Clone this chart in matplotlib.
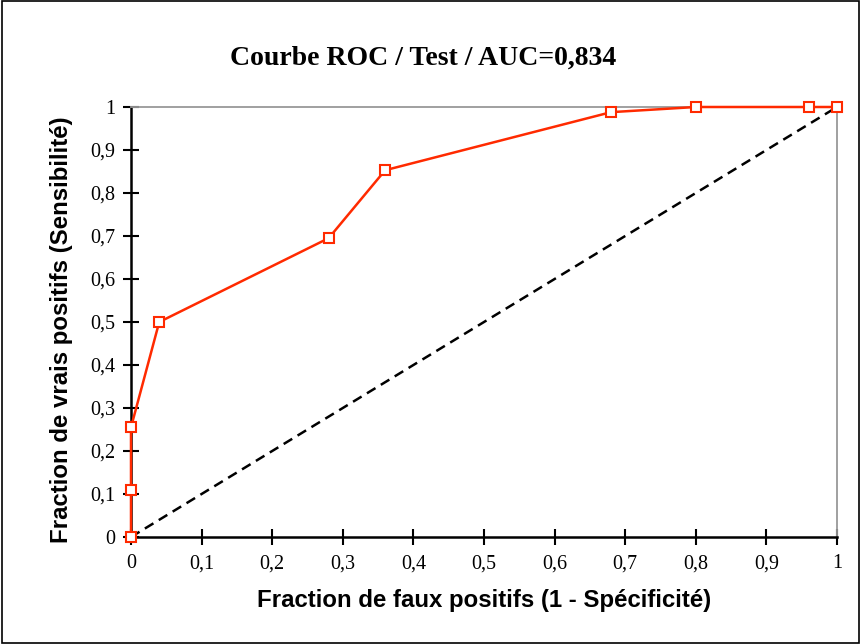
import matplotlib
matplotlib.use("Agg")
import matplotlib.pyplot as plt
from matplotlib.patches import Rectangle

# ROC points (1 - specificity, sensitivity)
fpr = [0, 0, 0, 0.04, 0.28, 0.36, 0.68, 0.80, 0.96, 1.0]
tpr = [0, 0.11, 0.255, 0.50, 0.695, 0.853, 0.988, 1.0, 1.0, 1.0]
diag = [0, 1]
ticks = [0, 0.1, 0.2, 0.3, 0.4, 0.5, 0.6, 0.7, 0.8, 0.9, 1]
tick_labels = ["0", "0,1", "0,2", "0,3", "0,4", "0,5", "0,6", "0,7", "0,8", "0,9", "1"]

fig = plt.figure(figsize=(8.61, 6.44), dpi=100)
ax = fig.add_axes([131 / 861, 1 - 537 / 644, 706 / 861, 430 / 644])

ax.plot(diag, diag, color="black", linestyle=(0, (4, 2.5)), linewidth=1.8, zorder=2)
ax.plot(fpr, tpr, color="#ff2a00", linewidth=1.8, marker="s", markersize=7,
        markerfacecolor="white", markeredgecolor="#ff2a00", markeredgewidth=1.5,
        zorder=3, clip_on=False)

ax.set_xlim(0, 1)
ax.set_ylim(0, 1)
ax.set_xticks(ticks)
ax.set_yticks(ticks)
ax.set_xticklabels(tick_labels, fontfamily="Liberation Serif", fontsize=14.5)
ax.set_yticklabels(tick_labels, fontfamily="Liberation Serif", fontsize=14.5)
ax.tick_params(direction="inout", length=11, width=1.5)
ax.tick_params(axis="x", pad=7)
ax.tick_params(axis="y", pad=6)

for side in ["top", "right"]:
    ax.spines[side].set_color("#999999")
    ax.spines[side].set_linewidth(1.3)
for side in ["left", "bottom"]:
    ax.spines[side].set_color("black")
    ax.spines[side].set_linewidth(1.8)

ax.set_xlabel("Fraction de faux positifs (1 - Spécificité)", fontfamily="Liberation Sans",
              fontweight="bold", fontsize=17.3, va="center")
ax.set_ylabel("Fraction de vrais positifs (Sensibilité)", fontfamily="Liberation Sans",
              fontweight="bold", fontsize=17.3, va="center")
ax.xaxis.set_label_coords(0.5, (537 - 601) / 430)
ax.yaxis.set_label_coords((62 - 131) / 706, (537 - 330) / 430)

fig.text(423 / 861, 1 - 58 / 644, "Courbe ROC / Test / AUC=0,834", ha="center", va="center",
         fontfamily="Liberation Serif", fontweight="bold", fontsize=20)

fig.patches.append(Rectangle((0.002, 0.002), 0.996, 0.996, transform=fig.transFigure,
                             fill=False, edgecolor="black", linewidth=1.2))

fig.savefig("out.png", dpi=100)
